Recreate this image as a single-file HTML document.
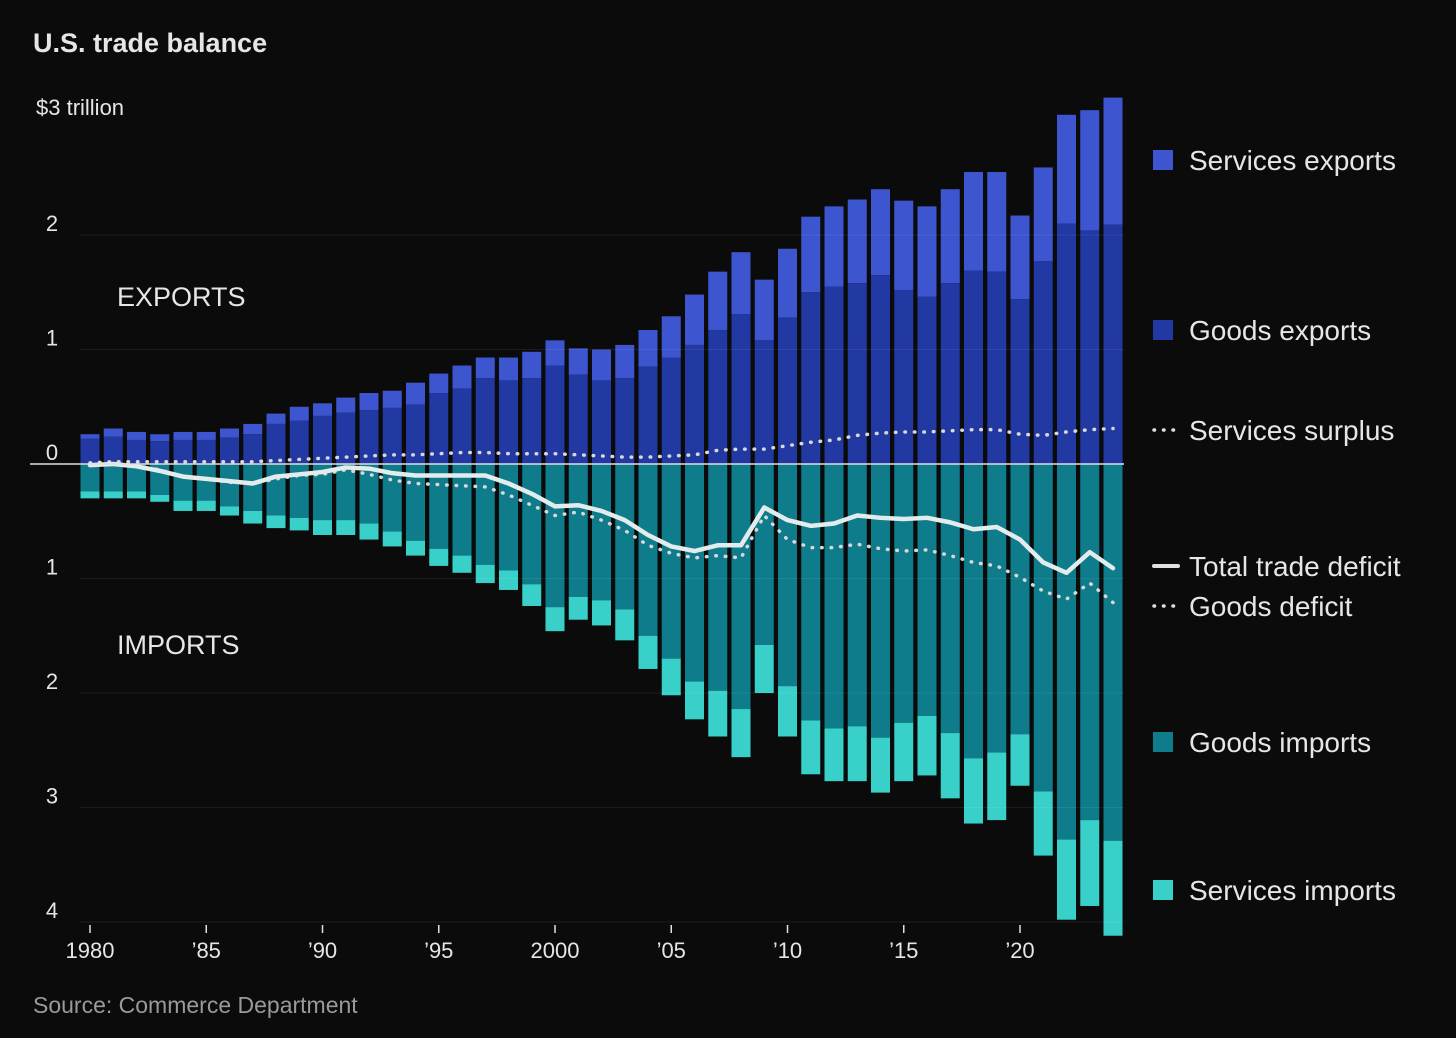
<!DOCTYPE html>
<html><head><meta charset="utf-8"><style>
body{margin:0;background:#0b0b0b;}
svg{display:block;font-family:"Liberation Sans",sans-serif;}
</style></head><body>
<svg id="chart" width="1456" height="1038" viewBox="0 0 1456 1038">
<rect width="1456" height="1038" fill="#0b0b0b"/>
<text x="33" y="52" fill="#e6e6e6" font-size="27" font-weight="bold">U.S. trade balance</text>
<text x="36" y="115" fill="#e6e6e6" font-size="22">$3 trillion</text>
<text x="117" y="306" fill="#e6e6e6" font-size="27">EXPORTS</text>
<text x="117" y="654" fill="#e6e6e6" font-size="27">IMPORTS</text>
<text x="33" y="1013" fill="#9a9a9a" font-size="23">Source: Commerce Department</text>
<g id="bars"></g><g id="grid"></g><g id="lines"></g><g id="axes"></g><g id="legend"></g>
</svg>
<script>
const years=[];for(let y=1980;y<=2024;y++)years.push(y);
const totalExports=[0.26,0.31,0.28,0.26,0.28,0.28,0.31,0.35,0.44,0.50,0.53,0.58,0.62,0.64,0.71,0.79,0.86,0.93,0.93,0.98,1.08,1.01,1.00,1.04,1.17,1.29,1.48,1.68,1.85,1.61,1.88,2.16,2.25,2.31,2.40,2.30,2.25,2.40,2.55,2.55,2.17,2.59,3.05,3.09,3.20];
const goodsExports=[0.22,0.24,0.21,0.20,0.21,0.21,0.23,0.26,0.35,0.38,0.42,0.45,0.47,0.49,0.52,0.62,0.66,0.75,0.73,0.75,0.86,0.78,0.73,0.75,0.85,0.93,1.04,1.17,1.31,1.08,1.28,1.50,1.55,1.58,1.65,1.52,1.46,1.58,1.69,1.68,1.44,1.77,2.10,2.04,2.09];
const totalImports=[0.30,0.30,0.30,0.33,0.41,0.41,0.45,0.52,0.56,0.58,0.62,0.62,0.66,0.72,0.80,0.89,0.95,1.04,1.10,1.24,1.46,1.36,1.41,1.54,1.79,2.02,2.23,2.38,2.56,2.00,2.38,2.71,2.77,2.77,2.87,2.77,2.72,2.92,3.14,3.11,2.81,3.42,3.98,3.86,4.12];
const goodsImports=[0.24,0.24,0.24,0.27,0.32,0.32,0.37,0.41,0.45,0.47,0.49,0.49,0.52,0.59,0.67,0.74,0.80,0.88,0.93,1.05,1.25,1.16,1.19,1.27,1.50,1.70,1.90,1.98,2.14,1.58,1.94,2.24,2.31,2.29,2.39,2.26,2.20,2.35,2.57,2.52,2.36,2.86,3.28,3.11,3.29];
const totalDeficit=[0.01,0,0.02,0.06,0.11,0.13,0.15,0.17,0.11,0.09,0.07,0.03,0.04,0.08,0.10,0.10,0.10,0.10,0.17,0.26,0.37,0.36,0.41,0.49,0.62,0.72,0.76,0.71,0.71,0.38,0.49,0.54,0.52,0.45,0.47,0.48,0.47,0.51,0.57,0.55,0.66,0.86,0.95,0.77,0.91];
const goodsDeficit=[0,0,0.02,0.05,0.11,0.13,0.16,0.17,0.13,0.10,0.09,0.05,0.09,0.14,0.17,0.18,0.19,0.20,0.27,0.36,0.45,0.42,0.49,0.58,0.71,0.78,0.82,0.80,0.82,0.45,0.66,0.73,0.73,0.70,0.74,0.76,0.75,0.80,0.86,0.89,0.99,1.11,1.18,1.04,1.21];
const servicesSurplus=[0.01,0.02,0.02,0.02,0.02,0.02,0.02,0.02,0.03,0.04,0.05,0.06,0.07,0.08,0.08,0.09,0.10,0.10,0.09,0.09,0.09,0.08,0.07,0.06,0.06,0.07,0.08,0.12,0.13,0.13,0.16,0.19,0.21,0.25,0.27,0.28,0.28,0.29,0.30,0.30,0.26,0.25,0.28,0.30,0.31];
const exportTicks=[2,1,0];
const importTicks=[1,2,3,4];
const xTickYears=[1980,1985,1990,1995,2000,2005,2010,2015,2020];
const xTickLabels=["1980","’85","’90","’95","2000","’05","’10","’15","’20"];

const NS="http://www.w3.org/2000/svg";
const Y0=464,K=114.5;
const yUp=v=>Y0-v*K, yDown=v=>Y0+v*K;
const x=yr=>90+(yr-1980)*23.25;
function mk(t,a,p){const e=document.createElementNS(NS,t);for(const k in a)e.setAttribute(k,a[k]);document.getElementById(p).appendChild(e);return e;}
const C={se:"#3d56d0",ge:"#2238a2",gi:"#0f7c8c",si:"#38d0c9"};
// tick labels and faint in-plot gridlines
exportTicks.forEach(t=>{
if(t>0){const g=mk("line",{x1:80,x2:1124,y1:yUp(t),y2:yUp(t),stroke:"#ffffff","stroke-opacity":0.07},"grid");

}
const l=mk("text",{x:52,y:yUp(t)-4,fill:"#e6e6e6","font-size":22,"text-anchor":"middle"},"axes");l.textContent=t;

});
importTicks.forEach(t=>{const g=mk("line",{x1:80,x2:1124,y1:yDown(t),y2:yDown(t),stroke:"#ffffff","stroke-opacity":0.07},"grid");


const l=mk("text",{x:52,y:yDown(t)-4,fill:"#e6e6e6","font-size":22,"text-anchor":"middle"},"axes");l.textContent=t;

});
// bars
const W=19;
years.forEach((yr,i)=>{const bx=x(yr)-W/2;
const r1=mk("rect",{x:bx,y:yUp(totalExports[i]),width:W,height:(totalExports[i]-goodsExports[i])*K,fill:C.se},"bars");


const r2=mk("rect",{x:bx,y:yUp(goodsExports[i]),width:W,height:goodsExports[i]*K,fill:C.ge},"bars");


const r3=mk("rect",{x:bx,y:Y0,width:W,height:goodsImports[i]*K,fill:C.gi},"bars");


const r4=mk("rect",{x:bx,y:yDown(goodsImports[i]),width:W,height:(totalImports[i]-goodsImports[i])*K,fill:C.si},"bars");

});
const zl=mk("line",{x1:30,x2:1124,y1:Y0,y2:Y0,stroke:"#e0e0e0","stroke-width":1.5},"axes");


// lines
function pts(arr,f){return arr.map((v,i)=>x(years[i])+","+f(v)).join(" ");}
const ss=mk("polyline",{points:pts(servicesSurplus,yUp),fill:"none",stroke:"#d8d8d8","stroke-width":3.5,"stroke-dasharray":"0.5 9","stroke-linecap":"round"},"lines");


const gd=mk("polyline",{points:pts(goodsDeficit,yDown),fill:"none",stroke:"#d8d8d8","stroke-width":3.5,"stroke-dasharray":"0.5 9","stroke-linecap":"round"},"lines");


const td=mk("polyline",{points:pts(totalDeficit,yDown),fill:"none",stroke:"#e2ecec","stroke-width":4.5,"stroke-linejoin":"round","stroke-linecap":"round"},"lines");


// x axis
xTickYears.forEach((yr,i)=>{const t=mk("line",{x1:x(yr),x2:x(yr),y1:925,y2:933,stroke:"#e0e0e0","stroke-width":1.5},"axes");


const l=mk("text",{x:x(yr),y:958,fill:"#e6e6e6","font-size":22,"text-anchor":"middle"},"axes");l.textContent=xTickLabels[i];

});
// legend
const leg=[["sq",C.se,"Services exports",160],["sq",C.ge,"Goods exports",330],["dot","","Services surplus",430],["solid","","Total trade deficit",566],["dot","","Goods deficit",606],["sq",C.gi,"Goods imports",742],["sq",C.si,"Services imports",890]];
leg.forEach(d=>{const [k,c,label,y]=d;
if(k==="sq"){const s=mk("rect",{x:1153,y:y-10,width:20,height:20,fill:c},"legend");

}
else{const s=mk("line",{x1:1154,x2:1178,y1:y,y2:y,stroke:"#e0e0e0","stroke-width":k==="dot"?3.5:4,"stroke-dasharray":k==="dot"?"0.5 9":"none","stroke-linecap":"round"},"legend");

}
const t=mk("text",{x:1189,y:y+10,fill:"#e6e6e6","font-size":28},"legend");t.textContent=label;

});
</script>
</body></html>
